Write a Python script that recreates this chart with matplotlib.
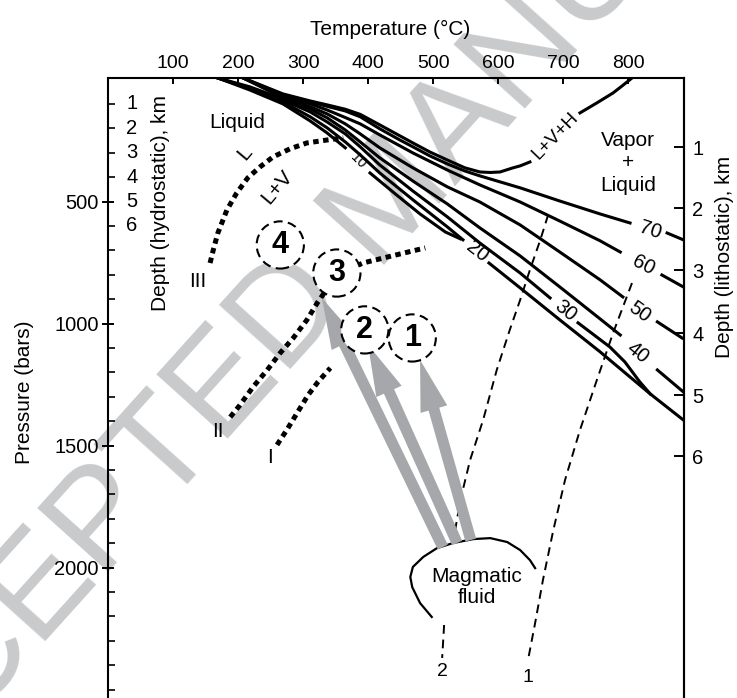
import matplotlib
matplotlib.use("Agg")
import matplotlib.pyplot as plt

plt.rcParams['font.family'] = ['Liberation Sans', 'DejaVu Sans']

# axes (temperature in deg C, pressure in bars)
T_LIM = (0, 886)
P_LIM = (2534, -6)
temp_ticks = [100, 200, 300, 400, 500, 600, 700, 800]
p_major = [500, 1000, 1500, 2000]
p_minor = [100, 200, 300, 400, 600, 700, 800, 900, 1100, 1200, 1300, 1400,
           1600, 1700, 1800, 1900, 2100, 2200, 2300, 2400, 2500]
hydro_km = ['1', '2', '3', '4', '5', '6']
hydro_p = [100, 200, 300, 400, 500, 600]
litho_km = ['1', '2', '3', '4', '5', '6']
litho_p = [277, 527, 781, 1040, 1294, 1543]

# L+V+H curve (two pieces around its label)
lvh_t = [208, 269, 311, 337, 365, 388, 418, 449, 469, 495, 522, 549, 572,
         588, 603, 623, 634, 649]
lvh_p = [-6, 59, 88, 104, 122, 143, 186, 231, 260, 297, 330, 362, 379,
         381, 379, 362, 354, 338]
lvh2_t = [726, 752, 777, 791, 806]
lvh2_p = [137, 96, 55, 26, -6]

# salinity curves (wt% NaCl): main part, label, short piece after label
sal = {
    '70': dict(t=[208, 269, 311, 337, 365, 388, 418, 449, 469, 495, 522, 549,
                  572, 634, 695, 757, 803],
               p=[-6, 63, 92, 110, 129, 153, 202, 248, 276, 313, 346, 375,
                  395, 444, 498, 551, 588],
               lab=(834, 616, -18), ct=[860, 885], cp=[629, 657]),
    '60': dict(t=[208, 269, 311, 337, 365, 388, 418, 469, 522, 572, 634, 695,
                  757, 788],
               p=[-6, 71, 100, 125, 156, 182, 227, 301, 371, 432, 502, 580,
                  661, 707],
               lab=(823, 760, -27), ct=[852, 885], cp=[801, 850]),
    '50': dict(t=[208, 269, 311, 337, 365, 388, 418, 469, 522, 572, 634, 695,
                  757, 792],
               p=[-6, 75, 112, 141, 182, 223, 280, 362, 440, 502, 596, 707,
                  821, 891],
               lab=(818, 952, -36), ct=[845, 883], cp=[993, 1059]),
    '40': dict(t=[169, 218, 269, 311, 337, 365, 388, 418, 469, 522, 572, 634,
                  695, 757, 788],
               p=[-6, 30, 80, 121, 157, 207, 256, 321, 416, 510, 608, 723,
                  850, 981, 1047],
               lab=(815, 1120, -39), ct=[845, 885], cp=[1190, 1280]),
    '30': dict(t=[169, 218, 269, 311, 337, 365, 388, 418, 469, 522, 572, 634,
                  680],
               p=[-6, 34, 84, 133, 174, 223, 276, 350, 457, 563, 670, 793,
                  895],
               lab=(703, 948, -39), ct=[723, 772, 795, 818, 834],
               cp=[997, 1096, 1157, 1239, 1288]),
    '20': dict(t=[169, 218, 269, 311, 337, 365, 388, 418, 469, 522, 546],
               p=[-6, 38, 92, 153, 198, 256, 309, 383, 493, 604, 657],
               lab=(568, 706, -38), ct=[586, 634, 695, 757, 803, 834, 885],
               cp=[752, 854, 985, 1116, 1219, 1288, 1395]),
    '10': dict(t=[169, 218, 269, 311, 337, 365],
               p=[-6, 43, 100, 170, 219, 280],
               lab=(385, 334, -45), ct=[403, 442, 480, 519, 542],
               cp=[383, 469, 551, 625, 653]),
}

# heavy dotted boundaries
III_t = [157, 162, 169, 183, 198, 215, 234, 254, 280, 306, 337, 362]
III_p = [752, 698, 629, 534, 465, 403, 358, 317, 284, 260, 248, 239]
II_t = [188, 203, 223, 245, 265, 285, 306, 322, 352, 392, 418, 449, 488]
II_p = [1383, 1334, 1260, 1190, 1120, 1059, 985, 915, 800, 752, 735, 715, 690]
I_t = [260, 275, 291, 308, 323, 342]
I_p = [1497, 1436, 1366, 1292, 1239, 1182]

# thin dashed paths 1 and 2
path1_t = [806, 777, 752, 726, 703, 685, 669, 657, 646]
path1_p = [834, 1038, 1231, 1436, 1641, 1846, 2051, 2227, 2379]
path2_t = [677, 665, 649, 634, 618, 598, 577, 557, 542, 534]
path2_p = [555, 657, 780, 903, 1026, 1190, 1395, 1559, 1723, 1846]
path2b_t = [517, 514]
path2b_p = [2235, 2370]

# magmatic fluid outline
magma_t = [498, 480, 468, 465, 469, 485, 506, 531, 562, 588, 614, 634, 649, 657]
magma_p = [2202, 2145, 2080, 2038, 1997, 1956, 1920, 1899, 1883, 1879, 1895,
           1928, 1969, 2002]

# arrows from the magmatic fluid to the numbered fields
arrow_tail_t = [515, 537, 558]
arrow_tail_p = [1916, 1899, 1887]
arrow_tip_t = [329, 400, 480]
arrow_tip_p = [895, 1087, 1149]

circle_t = [468, 395, 352, 265]
circle_p = [1059, 1026, 793, 678]
circle_lab = ['1', '2', '3', '4']

fig = plt.figure(figsize=(7.37, 6.98), dpi=100)
ax = fig.add_axes([108 / 737, 0, 576 / 737, 620 / 698])
ax.set_xlim(*T_LIM)
ax.set_ylim(*P_LIM)

# watermark of the source page, kept behind everything
fig.text(392 / 737, 1 - 203 / 698, 'ACCEPTED MANUSCRIPT', fontsize=101,
         color='#c9cacc', rotation=48, ha='center', va='center',
         rotation_mode='anchor', zorder=-10)
ax.patch.set_alpha(0)

K = 'black'
LW = 2.2
ax.plot(lvh_t, lvh_p, color=K, lw=LW, zorder=3)
ax.plot(lvh2_t, lvh2_p, color=K, lw=LW, zorder=3)
ax.text(689, 231, 'L+V+H', fontsize=13.5, rotation=46, ha='center',
        va='center', rotation_mode='anchor')

for name, d in sal.items():
    ax.plot(d['t'], d['p'], color=K, lw=LW, zorder=3)
    ax.plot(d['ct'], d['cp'], color=K, lw=LW, zorder=3)
    lt, lp, rot = d['lab']
    ax.text(lt, lp, name, fontsize=10 if name == '10' else 14.5,
            rotation=rot, ha='center', va='center', rotation_mode='anchor')

dot = dict(color=K, lw=3.6, linestyle=(0, (1.1, 0.9)), dash_capstyle='butt',
           zorder=3)
ax.plot(III_t, III_p, **dot)
ax.plot(II_t, II_p, **dot)
ax.plot(I_t, I_p, **dot)

dash = dict(color=K, lw=1.4, linestyle=(0, (4.5, 3)), zorder=2)
ax.plot(path1_t, path1_p, **dash)
ax.plot(path2_t, path2_p, **dash)
ax.plot(path2b_t, path2b_p, **dash)

ax.plot(magma_t, magma_p, color=K, lw=1.6, zorder=3)

for t0, p0, t1, p1 in zip(arrow_tail_t, arrow_tail_p, arrow_tip_t, arrow_tip_p):
    ax.annotate('', xy=(t1, p1), xytext=(t0, p0), zorder=4,
                arrowprops=dict(arrowstyle='simple,head_length=2.3,'
                                'head_width=1.25,tail_width=0.5',
                                mutation_scale=16, color='#a6a7aa', lw=0,
                                shrinkA=0, shrinkB=0))

ax.scatter(circle_t, circle_p, s=34 ** 2, facecolors='white',
           edgecolors=K, linewidths=1.5, linestyles=[(0, (4.3, 2.6))],
           zorder=5)
for t, p, s in zip(circle_t, circle_p, circle_lab):
    ax.text(t, p, s, fontsize=22, fontweight='bold', ha='center',
            va='center', zorder=6)

# region and curve labels
ax.text(198, 178, 'Liquid', fontsize=15, ha='center', va='center')
ax.text(211, 301, 'L', fontsize=15, rotation=50, ha='center', va='center')
ax.text(260, 440, 'L+V', fontsize=15, rotation=50, ha='center', va='center')
ax.text(800, 342, 'Vapor\n+\nLiquid', fontsize=15, ha='center', va='center',
        linespacing=1.25)
ax.text(567, 2079, 'Magmatic\nfluid', fontsize=15, ha='center', va='center',
        linespacing=1.1, zorder=6)
ax.text(138, 829, 'III', fontsize=15, ha='center', va='center')
ax.text(169, 1444, 'II', fontsize=15, ha='center', va='center')
ax.text(249, 1547, 'I', fontsize=15, ha='center', va='center')
ax.text(646, 2452, '1', fontsize=14, ha='center', va='center')
ax.text(515, 2424, '2', fontsize=14, ha='center', va='center')

# axes styling
for side in ('left', 'right', 'top'):
    ax.spines[side].set_linewidth(1.5)
ax.spines['bottom'].set_visible(False)

ax.xaxis.tick_top()
ax.set_xticks(temp_ticks)
ax.tick_params(axis='x', direction='in', length=4.5, width=1.4, pad=4,
               labelsize=14)
ax.set_yticks(p_major)
ax.set_yticks(p_minor, minor=True)
ax.tick_params(axis='y', which='major', direction='inout', length=9,
               width=1.4, pad=2, labelsize=14.5)
ax.tick_params(axis='y', which='minor', direction='in', length=5, width=1.2)
ax.tick_params(axis='y', right=False)

for km, p in zip(hydro_km, hydro_p):
    ax.text(37, p, km, fontsize=14.5, ha='center', va='center')

ax.text(80, 506, 'Depth (hydrostatic), km', fontsize=15, rotation=90,
        ha='center', va='center')
ax.text((390 - 108) / 576, (698 - 29) / 620, 'Temperature (°C)', fontsize=15,
        ha='center', va='center', transform=ax.transAxes)
ax.text((24 - 108) / 576, (698 - 392) / 620, 'Pressure (bars)', fontsize=15,
        rotation=90, ha='center', va='center', transform=ax.transAxes)
ax.text((725 - 108) / 576, (698 - 257) / 620, 'Depth (lithostatic), km',
        fontsize=15, rotation=90, ha='center', va='center',
        transform=ax.transAxes)

ax2 = ax.twinx()
ax2.set_ylim(*P_LIM)
ax2.set_yticks(litho_p)
ax2.set_yticklabels(litho_km)
ax2.tick_params(axis='y', direction='in', length=7.5, width=1.4, pad=6,
                labelsize=14.5)
for side in ('left', 'top', 'bottom'):
    ax2.spines[side].set_visible(False)
ax2.spines['right'].set_linewidth(1.5)

fig.savefig('out.png', dpi=100)
